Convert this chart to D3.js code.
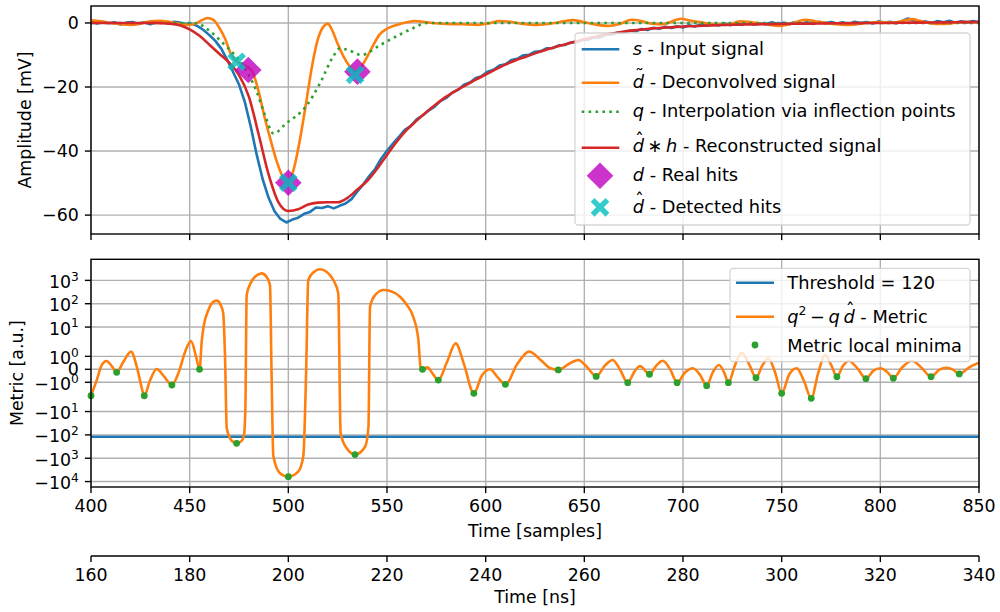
<!DOCTYPE html>
<html><head><meta charset="utf-8">
<script src="https://cdn.jsdelivr.net/npm/d3@7"></script>
<style>body{margin:0;background:#fff}svg{display:block}text{font-family:"DejaVu Sans",sans-serif;fill:#000}</style>
</head><body><svg id="c" width="1000" height="612"></svg>
<script>
// ---------------- DATA ----------------
const sampleTicks = [400,450,500,550,600,650,700,750,800,850];
const nsTicks = [160,180,200,220,240,260,280,300,320,340];
const ampTicks = [0,-20,-40,-60];
const metricTicks = [1000,100,10,1,0,-1,-10,-100,-1000,-10000];
const metricTickBase = ["10","10","10","10","0","\u221210","\u221210","\u221210","\u221210","\u221210"];
const metricTickExp  = ["3","2","1","0","","0","1","2","3","4"];

// s - input signal, sampled every 3 samples from 400
const inputStart = 400, inputStep = 3;
const inputV = [0.3,-0.2,0.4,-0.1,0.2,-0.5,0.1,0.3,-0.3,0.2,
 -0.4,0.3,0.5,-0.2,0.4,0.1,-0.3,-0.2,-1.0,-2.2,
 -3.8,-5.6,-8.0,-11.5,-15.3,-19.2,-24.8,-32.5,-41.2,-48.8,
 -54.6,-58.8,-61.2,-62.3,-61.4,-60.8,-59.6,-59.0,-57.6,-57.8,
 -57.2,-57.9,-57.1,-56.4,-55.0,-52.6,-50.4,-47.8,-45.6,-42.4,
 -39.9,-37.7,-35.6,-33.4,-32.2,-30.1,-28.9,-27.4,-26.2,-24.4,
 -23.4,-21.8,-20.9,-19.3,-18.6,-17.2,-16.6,-15.2,-14.6,-13.3,
 -12.9,-11.6,-11.2,-10.1,-9.9,-9.0,-8.8,-7.9,-7.8,-7.0,
 -6.9,-6.1,-6.0,-5.3,-5.2,-4.5,-4.5,-3.7,-3.6,-3.0,
 -3.1,-2.4,-2.6,-1.9,-2.2,-1.5,-1.8,-1.2,-1.6,-1.0,
 -1.4,-0.7,-1.1,-0.5,-0.9,-0.4,-0.8,-0.2,-0.7,-0.1,
 -0.6,0.1,-0.5,0.0,-0.4,0.2,-0.3,0.1,-0.4,0.3,
 -0.2,0.2,-0.3,0.4,-0.1,0.3,-0.2,0.2,-0.3,0.4,
 0.0,0.3,-0.2,0.5,0.1,0.4,-0.1,0.6,1.4,0.8,
 0.2,0.5,-0.1,0.6,0.2,0.7,0.1,0.5,0.2,0.6,
 0.3];

// d~ - deconvolved signal
const deconvT = [400,405,410,415,420,425,430,435,440,445,449,453,456,459,462,465,468,471,474,477,480,482,485,488,491,494,497,500,503,506,509,512,515,518,520,522,525,528,531,534,537,540,543,546,550,555,560,564,568,573,580,588,596,602,607,612,618,626,634,640,644,649,655,662,668,674,679,684,690,694,699,704,709,715,722,729,735,742,749,755,762,768,775,784,792,800,806,811,816,821,828,835,842,850];
const deconvV = [0.8,0.5,0.0,-0.4,-0.6,-0.2,0.5,0.7,0.3,-0.3,-0.6,-0.2,0.8,1.5,1.0,-1.5,-5.0,-9.8,-12.0,-13.1,-14.0,-15.5,-21.5,-29.5,-36.5,-43,-47.8,-49.8,-45,-36,-25,-13.5,-5,-1.0,-0.2,-2.0,-6.5,-10.5,-13.5,-15.2,-13.6,-10.5,-7,-3.8,-1.8,-0.6,0.2,0.6,0.4,0.0,-0.3,-0.4,-0.6,-0.1,0.6,0.4,-0.2,-0.6,-0.1,0.6,0.9,0.4,-0.4,-0.9,-0.3,1.0,0.6,-0.2,-0.4,0.4,1.3,0.7,0.2,-0.4,-0.6,0.5,0.2,-0.4,-0.9,-0.2,1.0,0.4,-0.2,-0.6,-0.1,0.3,0.1,0.6,1.2,0.5,-0.3,-0.2,0.3,0.2];

// q - interpolation via inflection points
const interpT = [400,452,456,460,464,468,472,476,480,484,488,492.5,499,509,516,522.7,526.2,531,537,546.5,556.6,564,570,850];
const interpV = [0,0,-0.7,-2.4,-4.6,-7.0,-9.4,-12.3,-16.3,-21.5,-28.5,-34.5,-31.3,-26,-18.9,-10.5,-7.9,-8.6,-10,-6.9,-3.6,-1.4,0,0];

// d^*h - reconstructed signal, every 5 samples from 400
const reconStart = 400, reconStep = 5;
const reconV = [0,0,0,0,0,0,0,-0.05,-0.2,-0.7,-2.0,-4.0,-6.8,-9.6,-12.4,-16.3,-23,-34.9,-47.3,-56,
 -58.7,-58.2,-56.7,-56.1,-56,-56,-54.6,-52,-49.3,-45.5,-41.2,-37,-33.4,-30.5,-27.8,-25.3,-23,-21.1,-19.4,-17.7,
 -16.1,-14.5,-13,-11.7,-10.6,-9.5,-8.5,-7.6,-6.7,-5.9,-5.1,-4.4,-3.7,-3.2,-2.7,-2.3,-2.0,-1.7,-1.5,-1.3,
 -1.1,-1.0,-0.85,-0.75,-0.65,-0.55,-0.5,-0.45,-0.4,-0.35,-0.3,-0.25,-0.2,-0.2,-0.15,-0.1,-0.1,-0.05,-0.05,0,
 0,0,0.05,0.1,0.1,0.15,0.2,0.2,0.25,0.25,0.3];

// hits
const realHitT = [479.7,500,535];
const realHitV = [-14.7,-49.9,-15.2];
const detHitT = [473.8,500,533.8];
const detHitV = [-12.1,-49.9,-16.2];

// metric q^2 - q d^
const metricT = [400,403,405.5,407.9,410.5,413,416.5,420.3,423.2,425.2,427,429.8,433.3,437,441,444.5,447.8,450.7,453.2,455,
 456.2,457.2,459.5,461.5,463.7,465.8,467,467.9,468.8,471.3,473.8,476.2,477.4,478.2,478.9,481,483.2,486.5,489,490.7,
 491.5,492.4,495.8,500,505,507.6,509,510.1,513,516,519.5,522.8,525.3,526.5,529.6,533.8,538.9,540.6,541.4,544,
 548.2,552,556.6,560,563.3,565.9,567.1,568,570.5,573.2,576,580.5,584.8,589,594,598,602.2,606,610,616,
 622,628,632.5,636.8,642,646.9,651.5,656,660.5,664.4,668,672,675.3,678.2,683,686.3,689.7,693.5,697,701,
 705,708.7,712,715.2,718.2,721,723,726.3,729.7,733.5,737,740.2,743.2,746.8,750,753.8,757.6,761.3,765,768.5,
 772,775.2,778,781,784,788.5,792.7,796.5,800,803.5,806.6,810.8,816,821,825.7,829.8,833.6,837,840,845,850];
const metricV = [-2.1,-0.8,0.35,0.64,0.25,-0.23,0.6,1.36,0.2,-1.1,-2.1,-0.9,0.02,-0.55,-1.21,-0.2,1.4,2.5,1.0,0.0,
 3,12,54,110,135,85,39,1.1,-52,-178,-229,-185,-120,-10,235,800,1450,2000,1400,632,
 -0.3,-800,-4365,-6166,-3776,-800,-0.3,1038,2300,2985,2300,1038,279,-85,-376,-700,-321,-46,74,235,
 389,345,200,90,27.6,2.79,0.1,0.0,0.15,-0.35,-0.83,0.6,2.0,0.4,-1.85,-0.5,0.0,-0.6,-1.16,0.4,
 1.36,0.7,0.1,-0.05,0.4,0.72,0.15,-0.55,0.3,0.72,0.0,-1.03,-0.2,0.25,-0.38,0.25,0.66,0.0,-1.03,-0.25,
 0.08,-0.45,-1.26,-0.2,0.33,-0.3,-1.03,0.3,1.28,0.4,-0.65,0.3,0.85,-0.3,-1.85,-0.4,0.08,-0.9,-2.72,-0.3,
 1.1,0.3,-0.57,0.25,0.66,0.05,-0.72,-0.1,0.08,-0.2,-0.69,0.1,0.66,0.1,-0.57,-0.05,0.12,-0.05,-0.36,0.15,0.51];
const minimaT = [400,413,427,441,455,473.8,500,533.8,568,576,594,610,636.8,656,672,683,697,712,723,737,750,765,778,792.7,806.6,825.7,840];
const minimaV = [-2.1,-0.23,-2.1,-1.21,0.0,-229,-6166,-700,0,-0.83,-1.85,-1.16,-0.05,-0.55,-1.03,-0.38,-1.03,-1.26,-1.03,-0.65,-1.85,-2.72,-0.57,-0.72,-0.69,-0.57,-0.36];
const threshold = -120;

// ---------------- LAYOUT / STYLE ----------------
const FS = 17.4, LFS = 17.8;
const L = 91, R = 979, T1 = 6, B1 = 234, T2 = 259.3, B2 = 487, NSY = 556;
const C = {blue:"#1f77b4", orange:"#ff7f0e", green:"#2ca02c", red:"#d62728", grid:"#b0b0b0"};
const LW = 2.6, GW = 1.39, TICK = 6.1;

const svg = d3.select("#c");
const x = d3.scaleLinear().domain([400,850]).range([L,R]);
const xNs = d3.scaleLinear().domain([160,340]).range([L,R]);
const yA = d3.scaleLinear().domain([-65.9,5.3]).range([B1,T1]);
const LT = 2, LS = 1/(1-1/10);
const symT = v => { const a = Math.abs(v); return a <= LT ? v*LS : Math.sign(v)*LT*(LS+Math.log10(a/LT)); };
const yU = d3.scaleLinear().domain([-10.086,9.426]).range([B2,T2]);
const yM = v => yU(symT(v));
const fmt = v => v < 0 ? "\u2212" + Math.abs(v) : String(v);

// clip paths
const defs = svg.append("defs");
defs.append("clipPath").attr("id","c1").append("rect").attr("x",L).attr("y",T1).attr("width",R-L).attr("height",B1-T1);
defs.append("clipPath").attr("id","c2").append("rect").attr("x",L).attr("y",T2).attr("width",R-L).attr("height",B2-T2);

// ---------- grids ----------
function vgrid(top,bottom){
  svg.append("g").selectAll("line").data(sampleTicks).join("line")
    .attr("x1",d=>x(d)).attr("x2",d=>x(d)).attr("y1",top).attr("y2",bottom)
    .attr("stroke",C.grid).attr("stroke-width",GW);
}
vgrid(T1,B1); vgrid(T2,B2);
svg.append("g").selectAll("line").data(ampTicks).join("line")
  .attr("x1",L).attr("x2",R).attr("y1",d=>yA(d)).attr("y2",d=>yA(d))
  .attr("stroke",C.grid).attr("stroke-width",GW);
svg.append("g").selectAll("line").data(metricTicks).join("line")
  .attr("x1",L).attr("x2",R).attr("y1",d=>yM(d)).attr("y2",d=>yM(d))
  .attr("stroke",C.grid).attr("stroke-width",GW);

// ---------- top panel series ----------
const gTop = svg.append("g").attr("clip-path","url(#c1)");
const pts = (T,V) => T.map((t,i)=>[t,V[i]]);
const inputPts = inputV.map((v,i)=>[inputStart+i*inputStep,v]);
const reconPts = reconV.map((v,i)=>[reconStart+i*reconStep,v]);
const lineA = d3.line().x(d=>x(d[0])).y(d=>yA(d[1]));
const lineAS = d3.line().x(d=>x(d[0])).y(d=>yA(d[1])).curve(d3.curveMonotoneX);
gTop.append("path").attr("d",lineA(inputPts)).attr("fill","none").attr("stroke",C.blue).attr("stroke-width",LW).attr("stroke-linejoin","round");
gTop.append("path").attr("d",lineAS(pts(deconvT,deconvV))).attr("fill","none").attr("stroke",C.orange).attr("stroke-width",LW);
gTop.append("path").attr("d",lineAS(pts(interpT,interpV))).attr("fill","none").attr("stroke",C.green).attr("stroke-width",LW).attr("stroke-dasharray","2.6,4.3");
gTop.append("path").attr("d",lineAS(reconPts)).attr("fill","none").attr("stroke",C.red).attr("stroke-width",LW);

const DR = 13.3;
const diamondPath = `M0,${-DR}L${DR},0L0,${DR}L${-DR},0Z`;
function crossPath(Rr,t){
  const p=[[-t,-Rr],[t,-Rr],[t,-t],[Rr,-t],[Rr,t],[t,t],[t,Rr],[-t,Rr],[-t,t],[-Rr,t],[-Rr,-t],[-t,-t]];
  const c=Math.SQRT1_2;
  return "M"+p.map(([a,b])=>[(a-b)*c,(a+b)*c].map(v=>v.toFixed(2)).join(",")).join("L")+"Z";
}
const xPath = crossPath(10.5,2.7);
gTop.append("g").selectAll("path").data(pts(realHitT,realHitV)).join("path")
  .attr("d",diamondPath).attr("transform",d=>`translate(${x(d[0])},${yA(d[1])})`)
  .attr("fill","#bf00bf").attr("fill-opacity",0.8);
gTop.append("g").selectAll("path").data(pts(detHitT,detHitV)).join("path")
  .attr("d",xPath).attr("transform",d=>`translate(${x(d[0])},${yA(d[1])})`)
  .attr("fill","#00bfbf").attr("fill-opacity",0.8);

// ---------- bottom panel series ----------
const gBot = svg.append("g").attr("clip-path","url(#c2)");
gBot.append("line").attr("x1",L).attr("x2",R).attr("y1",yM(threshold)).attr("y2",yM(threshold))
  .attr("stroke",C.blue).attr("stroke-width",LW);
const lineM = d3.line().x(d=>x(d[0])).y(d=>yM(d[1])).curve(d3.curveMonotoneX);
gBot.append("path").attr("d",lineM(pts(metricT,metricV))).attr("fill","none").attr("stroke",C.orange).attr("stroke-width",LW);
svg.append("g").selectAll("circle").data(pts(minimaT,minimaV)).join("circle")
  .attr("cx",d=>x(d[0])).attr("cy",d=>yM(d[1])).attr("r",3.4).attr("fill",C.green);

// ---------- spines & ticks ----------
function frame(top,bottom){
  svg.append("rect").attr("x",L).attr("y",top).attr("width",R-L).attr("height",bottom-top)
    .attr("fill","none").attr("stroke","#000").attr("stroke-width",GW);
  svg.append("g").selectAll("line").data(sampleTicks).join("line")
    .attr("x1",d=>x(d)).attr("x2",d=>x(d)).attr("y1",bottom).attr("y2",bottom+TICK)
    .attr("stroke","#000").attr("stroke-width",GW);
}
frame(T1,B1); frame(T2,B2);
// top y ticks
svg.append("g").selectAll("line").data(ampTicks).join("line")
  .attr("x1",L-TICK).attr("x2",L).attr("y1",d=>yA(d)).attr("y2",d=>yA(d)).attr("stroke","#000").attr("stroke-width",GW);
svg.append("g").selectAll("text").data(ampTicks).join("text")
  .attr("x",L-2*TICK).attr("y",d=>yA(d)+6.2).attr("text-anchor","end").attr("font-size",FS).text(fmt);
// bottom y ticks (symlog)
svg.append("g").selectAll("line").data(metricTicks).join("line")
  .attr("x1",L-TICK).attr("x2",L).attr("y1",d=>yM(d)).attr("y2",d=>yM(d)).attr("stroke","#000").attr("stroke-width",GW);
metricTicks.forEach((v,i)=>{
  const hasExp = metricTickExp[i] !== "";
  const t = svg.append("text").attr("x",L-2*TICK).attr("y",yM(v)+(hasExp?7.6:6.0))
    .attr("text-anchor","end").attr("font-size",FS);
  t.append("tspan").text(metricTickBase[i]);
  if(hasExp) t.append("tspan").attr("font-size",FS*0.7).attr("dy",-0.42*FS).text(metricTickExp[i]);
});
// x tick labels (samples)
svg.append("g").selectAll("text").data(sampleTicks).join("text")
  .attr("x",d=>x(d)).attr("y",B2+2*TICK+13.2).attr("text-anchor","middle").attr("font-size",FS).text(fmt);
svg.append("text").attr("x",(L+R)/2).attr("y",536.6).attr("text-anchor","middle").attr("font-size",FS).text("Time [samples]");
// ns axis
svg.append("line").attr("x1",L).attr("x2",R).attr("y1",NSY).attr("y2",NSY).attr("stroke","#000").attr("stroke-width",GW);
svg.append("g").selectAll("line").data(nsTicks).join("line")
  .attr("x1",d=>xNs(d)).attr("x2",d=>xNs(d)).attr("y1",NSY).attr("y2",NSY+TICK).attr("stroke","#000").attr("stroke-width",GW);
svg.append("g").selectAll("text").data(nsTicks).join("text")
  .attr("x",d=>xNs(d)).attr("y",NSY+2*TICK+13.2).attr("text-anchor","middle").attr("font-size",FS).text(fmt);
svg.append("text").attr("x",(L+R)/2).attr("y",NSY+47).attr("text-anchor","middle").attr("font-size",FS).text("Time [ns]");
// y labels
svg.append("text").attr("transform",`translate(31,${(T1+B1)/2}) rotate(-90)`).attr("text-anchor","middle").attr("font-size",FS).text("Amplitude [mV]");
svg.append("text").attr("transform",`translate(22.5,${(T2+B2)/2}) rotate(-90)`).attr("text-anchor","middle").attr("font-size",FS).text("Metric [a.u.]");

// ---------- legends ----------
function richText(parent, x0, y0, runs){
  const t = parent.append("text").attr("x",x0).attr("y",y0).attr("font-size",LFS);
  let idx = 0, shift = 0; const acc = [];
  runs.forEach(r=>{
    const ts = t.append("tspan").text(r.t);
    if(r.i) ts.attr("font-style","italic");
    if(r.sup){ ts.attr("font-size",LFS*0.7).attr("dy",-0.42*LFS); shift = 0.42*LFS; }
    else if(shift){ ts.attr("dy",shift); shift = 0; }
    if(r.acc) acc.push({idx, kind:r.acc});
    idx += r.t.length;
  });
  const n = t.node();
  acc.forEach(a=>{
    const e = n.getExtentOfChar(a.idx);
    parent.append("text").attr("x",e.x+e.width/2+1.2).attr("y",y0-6.3)
      .attr("text-anchor","middle").attr("font-size",LFS)
      .text(a.kind==="hat" ? "\u02C6" : "\u02DC");
  });
}
function legendBox(x0,y0,w,h){
  return svg.append("rect").attr("x",x0).attr("y",y0).attr("width",w).attr("height",h).attr("rx",3.5)
    .attr("fill","#fff").attr("fill-opacity",0.8).attr("stroke","#cccccc").attr("stroke-opacity",0.8).attr("stroke-width",1.3);
}
legendBox(575,33,395,192);
const hx1 = 581.7, hx2 = 619.3, tx = 632.7;
const g1 = svg.append("g");
[[C.blue,null,49.3],[C.orange,null,82.7],[C.green,"2.6,4.3",111.7],[C.red,null,147.7]].forEach(([c,da,y])=>{
  const l = g1.append("line").attr("x1",hx1).attr("x2",hx2).attr("y1",y).attr("y2",y).attr("stroke",c).attr("stroke-width",LW);
  if(da) l.attr("stroke-dasharray",da);
});
g1.append("path").attr("d",diamondPath).attr("transform","translate(600,175.7)").attr("fill","#bf00bf").attr("fill-opacity",0.8);
g1.append("path").attr("d",xPath).attr("transform","translate(600,207.3)").attr("fill","#00bfbf").attr("fill-opacity",0.8);
richText(g1,tx,55,[{t:"s",i:1},{t:" - Input signal"}]);
richText(g1,tx,88.3,[{t:"d",i:1,acc:"tilde"},{t:" - Deconvolved signal"}]);
richText(g1,tx,117.3,[{t:"q",i:1},{t:" - Interpolation via inflection points"}]);
richText(g1,tx,152.3,[{t:"d",i:1,acc:"hat"},{t:"\u2009\u2217\u2009"},{t:"h",i:1},{t:" - Reconstructed signal"}]);
richText(g1,tx,180.7,[{t:"d",i:1},{t:" - Real hits"}]);
richText(g1,tx,212.7,[{t:"d",i:1,acc:"hat"},{t:" - Detected hits"}]);

legendBox(730,268.3,240,93.4);
const g2 = svg.append("g");
g2.append("line").attr("x1",736).attr("x2",774).attr("y1",282.7).attr("y2",282.7).attr("stroke",C.blue).attr("stroke-width",LW);
g2.append("line").attr("x1",736).attr("x2",774).attr("y1",316.7).attr("y2",316.7).attr("stroke",C.orange).attr("stroke-width",LW);
g2.append("circle").attr("cx",755).attr("cy",345).attr("r",3.4).attr("fill",C.green);
richText(g2,787.3,289.3,[{t:"Threshold = 120"}]);
richText(g2,787.3,322.7,[{t:"q",i:1},{t:"2",sup:1},{t:"\u2009\u2212\u2009"},{t:"q",i:1},{t:"\u2009"},{t:"d",i:1,acc:"hat"},{t:" - Metric"}]);
richText(g2,787.3,351.7,[{t:"Metric local minima"}]);
</script></body></html>
